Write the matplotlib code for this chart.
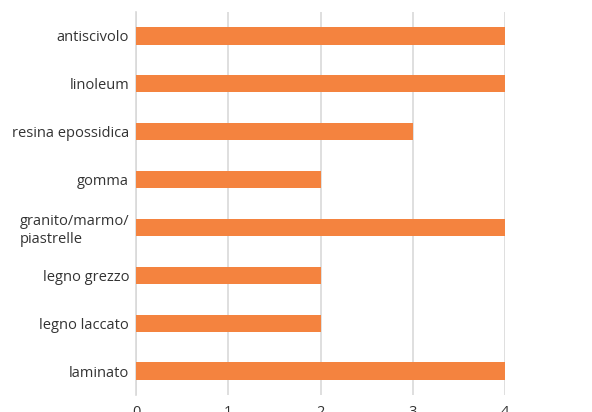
import matplotlib
matplotlib.use('Agg')
import matplotlib.pyplot as plt
import numpy as np

categories = ['antiscivolo', 'linoleum', 'resina epossidica', 'gomma',
              'granito/marmo/\npiastrelle', 'legno grezzo', 'legno laccato', 'laminato']
values = [4, 4, 3, 2, 4, 2, 2, 4]
xticks = [0, 1, 2, 3, 4]

plt.rcParams['font.family'] = ['Open Sans', 'DejaVu Sans']

fig = plt.figure(figsize=(5.92, 4.12), dpi=100)
ax = fig.add_axes([136/592, 1 - 395/412, (505-136)/592, (395-12)/412])

y = np.arange(len(categories))
ax.barh(y, values, height=0.36, color='#F4833F', zorder=3)
ax.set_ylim(len(categories) - 0.5, -0.5)
ax.set_xlim(0, 4)
ax.set_xticks(xticks)
ax.set_yticks(y)
ax.set_yticklabels(categories)
for lbl in ax.get_yticklabels():
    lbl.set_multialignment('left')

ax.grid(axis='x', color='#d9d9d9', linewidth=1.2, zorder=0)
for s in ['top', 'right', 'bottom']:
    ax.spines[s].set_visible(False)
ax.spines['left'].set_color('#d9d9d9')
ax.spines['left'].set_linewidth(1.2)
ax.tick_params(axis='both', length=0, labelsize=10.5, labelcolor='#333333')
ax.tick_params(axis='x', pad=7)
ax.tick_params(axis='y', pad=5)

fig.savefig('out.png', dpi=100)
